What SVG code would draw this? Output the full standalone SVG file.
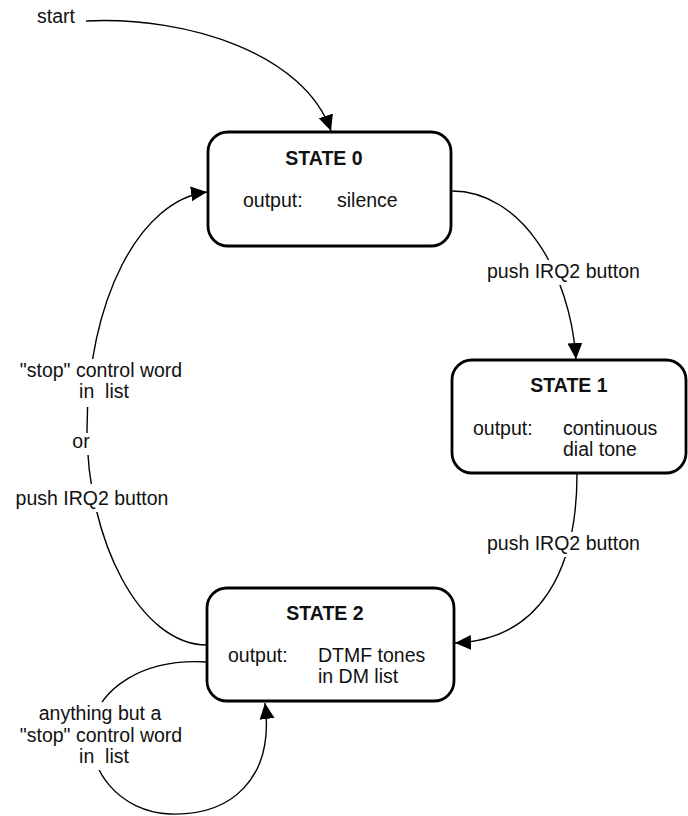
<svg xmlns="http://www.w3.org/2000/svg" width="688" height="816" viewBox="0 0 688 816">
<style>
text { font-family: "Liberation Sans", Arial, sans-serif; font-size: 19.5px; fill: #111; white-space: pre; }
.title { font-weight: bold; text-anchor: middle; }
.mid { text-anchor: middle; }
.box { fill: #fff; stroke: #000; stroke-width: 2.8; }
.conn { fill: none; stroke: #000; stroke-width: 1.4; marker-end: url(#arrow); }
.bg { fill: #fff; stroke: none; }
</style>
<defs>
<marker id="arrow" markerUnits="userSpaceOnUse" markerWidth="18" markerHeight="16" refX="16" refY="7.5" orient="auto">
<path d="M0,0 L16,7.5 L0,15 Z" fill="#000"/>
</marker>
</defs>
<rect width="688" height="816" fill="#fff"/>
<g id="connectors">
<path class="conn" d="M86,21 C190,16 305,55 331,131"/>
<path class="conn" d="M452,191 C520,191 570,270 576,359"/>
<path class="conn" d="M577,474 C577,570 540,640 455,643"/>
<path class="conn" d="M207,645 C140,645 87,540 87,430 C87,300 140,200 207,192"/>
<path class="conn" d="M207,662 C140,658 100,690 92,725 C85,770 120,812 170,814 C230,816 275,780 265,703"/>
</g>
<g id="labels">
<text x="37" y="23">start</text>
<rect class="bg" x="484" y="260" width="162" height="25"/>
<text x="487" y="278">push IRQ2 button</text>
<rect class="bg" x="484" y="532" width="162" height="25"/>
<text x="487" y="550">push IRQ2 button</text>
<rect class="bg" x="14" y="359" width="174" height="48"/>
<text class="mid" x="101" y="377">"stop" control word</text>
<text class="mid" x="104" y="398">in&#160; list</text>
<rect class="bg" x="68" y="433" width="26" height="22"/>
<text class="mid" x="81" y="448">or</text>
<rect class="bg" x="9" y="484" width="166" height="28"/>
<text class="mid" x="92" y="505">push IRQ2 button</text>
<rect class="bg" x="14" y="702" width="174" height="68"/>
<text class="mid" x="100" y="720">anything but a</text>
<text class="mid" x="101" y="742">"stop" control word</text>
<text class="mid" x="104" y="763">in&#160; list</text>
</g>
<g id="state0">
<rect class="box" x="208" y="132" width="243" height="114" rx="20"/>
<text class="title" x="324" y="165">STATE 0</text>
<text x="243" y="207">output:</text>
<text x="337" y="207">silence</text>
</g>
<g id="state1">
<rect class="box" x="452" y="360" width="234" height="113" rx="20"/>
<text class="title" x="569" y="392">STATE 1</text>
<text x="473" y="435">output:</text>
<text x="563" y="435">continuous</text>
<text x="563" y="456">dial tone</text>
</g>
<g id="state2">
<rect class="box" x="207" y="588" width="247" height="113" rx="20"/>
<text class="title" x="325" y="620">STATE 2</text>
<text x="228" y="662">output:</text>
<text x="318" y="662">DTMF tones</text>
<text x="318" y="683">in DM list</text>
</g>
</svg>
